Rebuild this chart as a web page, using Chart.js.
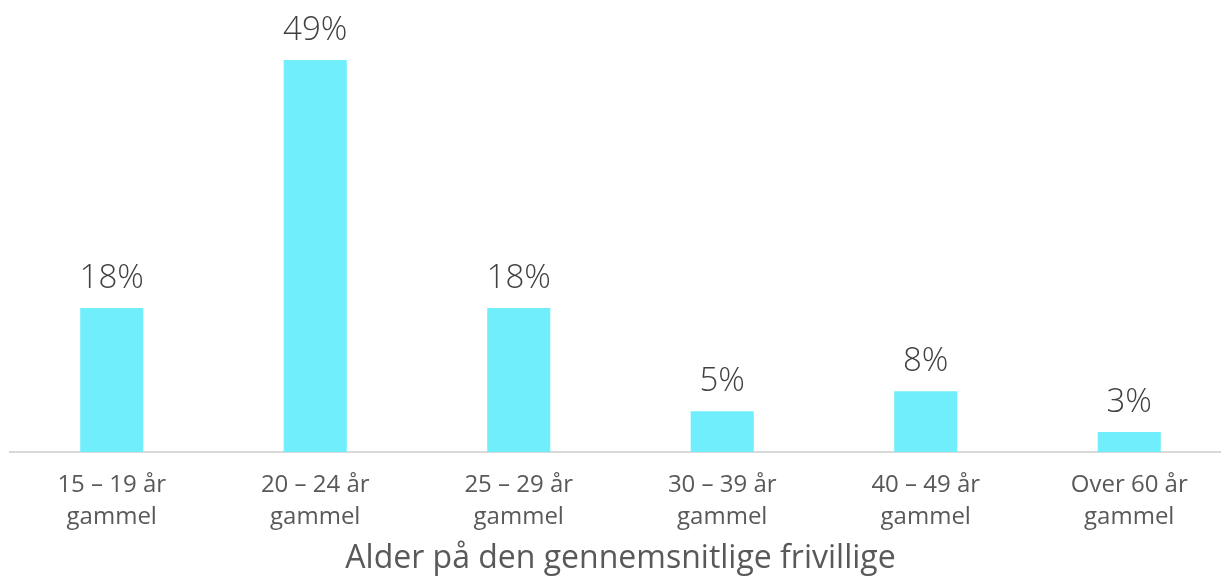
<!DOCTYPE html>
<html>
<head>
<meta charset="utf-8">
<script src="https://cdn.jsdelivr.net/npm/chart.js@4"></script>
<style>
    html, body { margin: 0; padding: 0; background: #fff; overflow: hidden; }
    #wrap { width: 1221px; height: 578px; overflow: hidden; }
</style>
</head>
<body>
<div id="wrap"><canvas id="myChart" width="1231" height="578"></canvas></div>
<script>
// Kategorier og værdier
const categories = [
    ['15 – 19 år', 'gammel'],
    ['20 – 24 år', 'gammel'],
    ['25 – 29 år', 'gammel'],
    ['30 – 39 år', 'gammel'],
    ['40 – 49 år', 'gammel'],
    ['Over 60 år', 'gammel']
];
const values = [18, 49, 18, 5.1, 7.6, 2.5];
const axisTitle = 'Alder på den gennemsnitlige frivillige';

// Etiketter over søjlerne
const barLabels = {
    id: 'barLabels',
    afterDatasetsDraw(chart) {
        const ctx = chart.ctx;
        const meta = chart.getDatasetMeta(0);
        ctx.save();
        ctx.font = '300 33px "Open Sans"';
        ctx.fillStyle = '#404040';
        ctx.textAlign = 'center';
        ctx.textBaseline = 'alphabetic';
        meta.data.forEach(function(bar, i) {
            ctx.fillText(Math.round(values[i]) + '%', bar.x, bar.y - 20);
        });
        ctx.restore();
    }
};

const ctx = document.getElementById('myChart');
const config = {
    type: 'bar',
    data: {
        labels: categories,
        datasets: [{
            data: values,
            backgroundColor: '#71EEFB',
            barPercentage: 0.31,
            categoryPercentage: 1
        }]
    },
    options: {
        responsive: false,
        animation: false,
        layout: { padding: { left: 10, right: 0, top: 0, bottom: 0 } },
        plugins: {
            legend: { display: false },
            tooltip: { enabled: false }
        },
        scales: {
            y: {
                display: false,
                min: 0,
                max: 56.5
            },
            x: {
                // fast højde så aksen ligger samme sted som i originalen
                afterFit(scale) { scale.height = 126; },
                grid: { display: false, drawTicks: false, tickLength: 0 },
                border: { color: '#D9D9D9', width: 2 },
                ticks: {
                    color: '#595959',
                    padding: 18,
                    maxRotation: 0,
                    font: { family: 'Open Sans', size: 24, weight: 400, lineHeight: 1.3 }
                },
                title: {
                    display: true,
                    text: axisTitle,
                    color: '#595959',
                    padding: { top: 0, bottom: 0 },
                    font: { family: 'Open Sans', size: 32, weight: 400, lineHeight: '39px' }
                }
            }
        }
    },
    plugins: [barLabels]
};

let chart = new Chart(ctx, config);
</script>
</body>
</html>
